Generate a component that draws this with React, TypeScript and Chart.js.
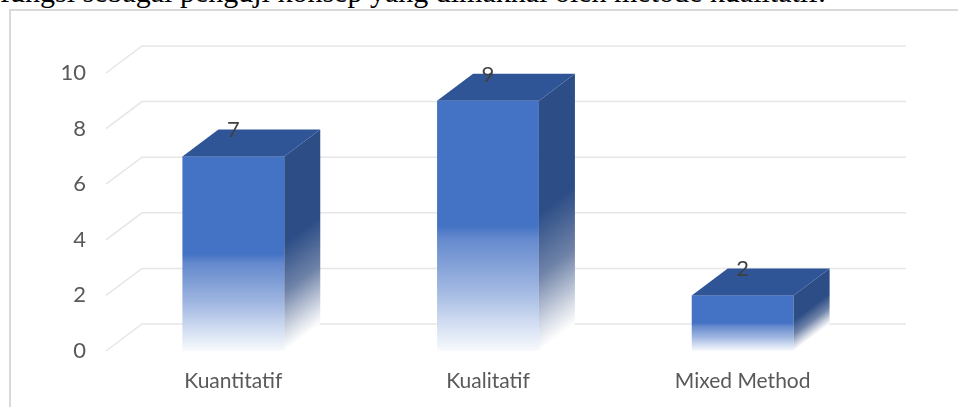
import React, { useEffect, useRef } from "react";
import { Chart, registerables } from "chart.js";

Chart.register(...registerables);

const categories = ["Kuantitatif", "Kualitatif", "Mixed Method"];
const values = [7, 9, 2];
const yMin = 0;
const yMax = 10;
const yStep = 2;
const headerText = "fungsi sebagai penguji konsep yang dimaknai oleh metode kualitatif.";

const DX = 36;
const DY = -27;
const FONT = "Lato, 'Open Sans', sans-serif";

const threeD = {
  id: "threeD",
  beforeDatasetsDraw(chart: any) {
    const { ctx, chartArea, scales } = chart;
    const y = scales.y;
    ctx.save();
    ctx.strokeStyle = "#e6e6e6";
    ctx.lineWidth = 1.5;
    y.ticks.forEach((t: any) => {
      const py = y.getPixelForValue(t.value);
      ctx.beginPath();
      ctx.moveTo(chartArea.left, py);
      ctx.lineTo(chartArea.left + DX, py + DY);
      ctx.lineTo(chartArea.right + DX, py + DY);
      ctx.stroke();
    });
    ctx.restore();
  },
  afterDatasetsDraw(chart: any) {
    const { ctx } = chart;
    const meta = chart.getDatasetMeta(0);
    meta.data.forEach((bar: any, i: number) => {
      const { x, y, base, width } = bar.getProps(["x", "y", "base", "width"], true);
      const l = x - width / 2;
      const r = x + width / 2;
      const h = base - y;
      ctx.save();
      // front face
      const gf = ctx.createLinearGradient(0, y, 0, base);
      gf.addColorStop(0, "#4472C4");
      gf.addColorStop(0.5, "#4472C4");
      gf.addColorStop(0.55, "#6489CD");
      gf.addColorStop(0.75, "#9FB6E1");
      gf.addColorStop(0.9, "#D5E0F3");
      gf.addColorStop(1, "#F8FAFD");
      ctx.fillStyle = gf;
      ctx.fillRect(l, y, width, h);
      // side face (skewed)
      ctx.save();
      ctx.transform(1, DY / DX, 0, 1, r, y);
      const gs = ctx.createLinearGradient(0, 0, 0, h);
      gs.addColorStop(0, "#2C4D86");
      gs.addColorStop(0.45, "#2C4D86");
      gs.addColorStop(0.7, "#6F83A8");
      gs.addColorStop(0.9, "#D3D9E4");
      gs.addColorStop(1, "#FFFFFF");
      ctx.fillStyle = gs;
      ctx.fillRect(0, 0, DX, h);
      ctx.restore();
      // top face
      ctx.beginPath();
      ctx.moveTo(l, y);
      ctx.lineTo(l + DX, y + DY);
      ctx.lineTo(r + DX, y + DY);
      ctx.lineTo(r, y);
      ctx.closePath();
      ctx.fillStyle = "#2F5597";
      ctx.fill();
      // label
      ctx.fillStyle = "#404040";
      ctx.font = `22px ${FONT}`;
      ctx.textAlign = "center";
      ctx.textBaseline = "middle";
      ctx.fillText(String(values[i]), x, y + DY + 1);
      ctx.restore();
    });
  },
};

export default function App() {
  const ref = useRef<HTMLCanvasElement | null>(null);
  useEffect(() => {
    if (!ref.current) return;
    const chart = new Chart(ref.current, {
      type: "bar",
      data: {
        labels: categories,
        datasets: [
          {
            data: values,
            backgroundColor: "rgba(0,0,0,0)",
            borderWidth: 0,
            barPercentage: 0.4,
            categoryPercentage: 1,
          },
        ],
      },
      options: {
        animation: false,
        responsive: false,
        layout: { padding: { left: 0, right: 88, top: 73, bottom: 0 } },
        plugins: { legend: { display: false }, tooltip: { enabled: false } },
        scales: {
          x: {
            grid: { display: false, drawTicks: false },
            border: { display: false },
            ticks: { color: "#595959", font: { family: FONT, size: 21 }, padding: 18 },
            afterFit: (s: any) => {
              s.height = 56;
            },
          },
          y: {
            min: yMin,
            max: yMax,
            grid: { display: false, drawTicks: false },
            border: { display: false },
            ticks: { stepSize: yStep, color: "#595959", font: { family: FONT, size: 22 }, padding: 20 },
            afterFit: (s: any) => {
              s.width = 106;
            },
          },
        },
      },
      plugins: [threeD],
    });
    return () => chart.destroy();
  }, []);

  return (
    <div
      style={{
        position: "fixed",
        left: 0,
        top: 0,
        width: 958,
        height: 407,
        overflow: "hidden",
        background: "#fff",
      }}
    >
      <div
        style={{
          position: "absolute",
          left: 0,
          top: -23,
          fontFamily: "'Liberation Serif', 'Times New Roman', serif",
          fontSize: 30,
          lineHeight: "30px",
          whiteSpace: "nowrap",
          color: "#000",
        }}
      >
        {headerText}
      </div>
      <div
        style={{
          position: "absolute",
          left: 9,
          top: 9,
          width: 1100,
          height: 600,
          border: "2px solid #d9d9d9",
          boxSizing: "border-box",
        }}
      />
      <canvas
        ref={ref}
        width={958}
        height={407}
        style={{ position: "absolute", left: 0, top: 0, width: 958, height: 407 }}
      />
    </div>
  );
}
